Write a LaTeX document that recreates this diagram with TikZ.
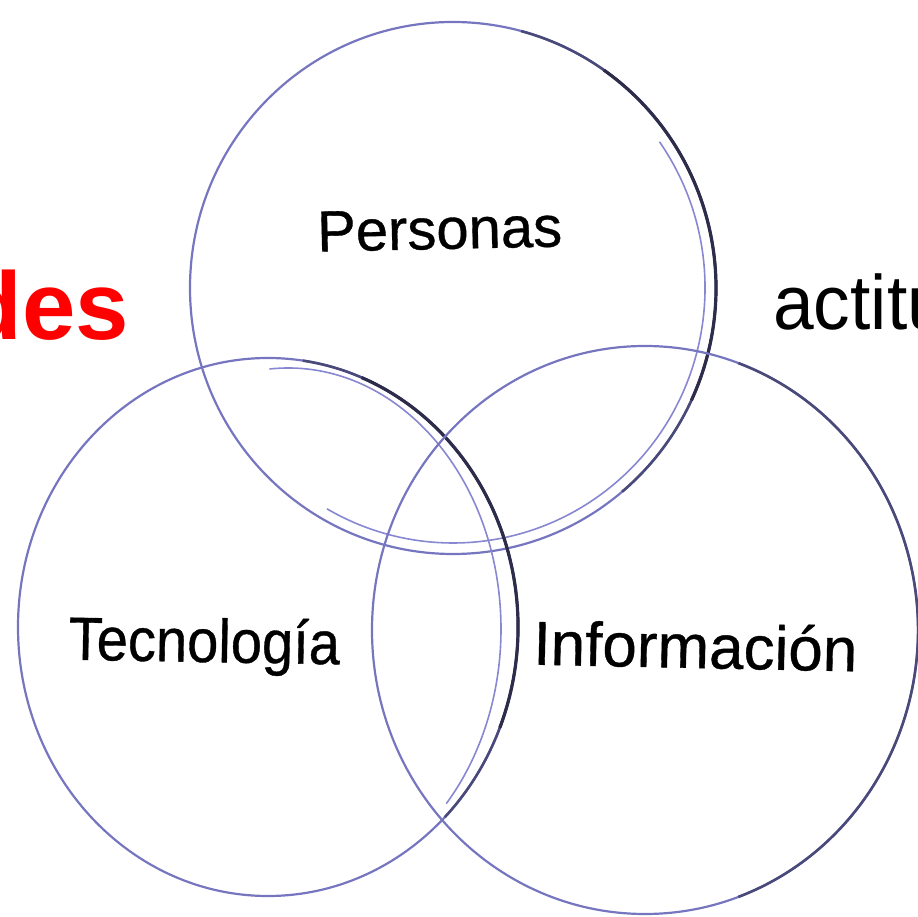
\documentclass[tikz,border=0pt]{standalone}
\usepackage{fontspec}
\setmainfont{Liberation Sans}
\definecolor{ringblue}{RGB}{118,118,192}
\definecolor{ringlight}{RGB}{135,135,210}
\definecolor{ringdark}{RGB}{45,45,75}
\begin{document}
\begin{tikzpicture}[x=1pt,y=1pt,
  ring/.style={draw=ringblue, line width=2.2pt},
  shadearc/.style={draw=ringdark, line width=3.2pt},
  softarc/.style={draw=ringdark!60!ringblue, line width=2.6pt},
  glint/.style={draw=ringlight, line width=1.6pt},
  lbl/.style={inner sep=0pt, text=black},
  bigfont/.style={font=\addfontfeature{FakeBold=0.6}\fontsize{#1}{#1}\selectfont}]
\useasboundingbox (0,0) rectangle (918,916);
\coordinate (P) at (453,628);
\coordinate (T) at (268,289);
\coordinate (Tg) at (288,287);
\coordinate (I) at (645,286);
% top circle
\draw[ring] (P) ellipse [x radius=263, y radius=266];
\draw[softarc] (P) ++(75:263 and 266) arc[start angle=75, end angle=-50, x radius=263, y radius=266];
\draw[shadearc] (P) ++(55:263 and 266) arc[start angle=55, end angle=-25, x radius=263, y radius=266];
\draw[glint] (P) ++(35:252 and 255) arc[start angle=35, end angle=-120, x radius=252, y radius=255];
% left circle
\draw[ring] (T) ellipse [x radius=250, y radius=269];
\draw[softarc] (T) ++(82:250 and 269) arc[start angle=82, end angle=-45, x radius=250, y radius=269];
\draw[shadearc] (T) ++(68:250 and 269) arc[start angle=68, end angle=-22, x radius=250, y radius=269];
\draw[glint] (Tg) ++(95:213 and 261) arc[start angle=95, end angle=-42, x radius=213, y radius=261];
% right circle
\draw[ring] (I) ellipse [x radius=273, y radius=284];
\draw[softarc] (I) ++(70:273 and 284) arc[start angle=70, end angle=-70, x radius=273, y radius=284];
% labels
\node[lbl, anchor=base, rotate=1.2, bigfont=58] (personas) at (440,667) {Personas};
\node[lbl, anchor=base, rotate=-1, xscale=0.92, bigfont=61] (tec) at (204,254) {Tecnología};
\node[lbl, anchor=base, rotate=-1.2, bigfont=62] (info) at (695,248) {Información};
\node[lbl, anchor=base east, text=red, font=\bfseries\fontsize{96}{100}\selectfont] (des) at (129,576) {des};
\node[lbl, anchor=base west, xscale=0.95, font=\fontsize{77}{80}\selectfont] (act) at (773,586) {actitu};
\end{tikzpicture}
\end{document}
